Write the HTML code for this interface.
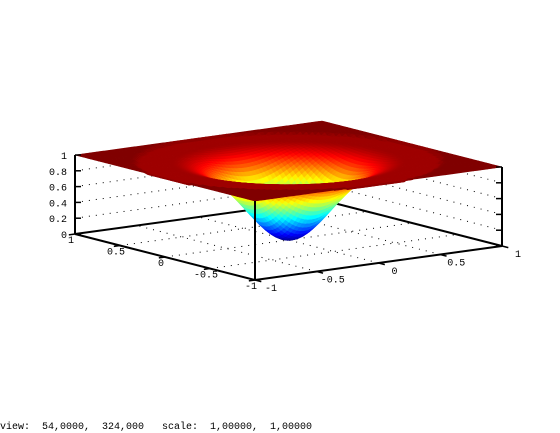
<!DOCTYPE html>
<html><head><meta charset="utf-8">
<style>
html,body{margin:0;padding:0;background:#fff;}
svg{display:block;}
text{font-family:"Liberation Mono","DejaVu Sans Mono",monospace;font-size:10px;fill:#000;white-space:pre;}
</style></head>
<body>
<svg id="plot" width="560" height="433" viewBox="0 0 560 433" xmlns="http://www.w3.org/2000/svg">
<g id="grid"></g>
<g id="surf"></g>
<g id="axes"></g>
<text x="0" y="429" xml:space="preserve">view:  54,0000,  324,000   scale:  1,00000,  1,00000</text>
</svg>
<script>
const uTicks=[-1,-0.5,0,0.5,1];
const uLabels=["-1","-0.5","0","0.5","1"];
const vTicks=[-1,-0.5,0,0.5,1];
const vLabels=["-1","-0.5","0","0.5","1"];
const zTicks=[0,0.2,0.4,0.6,0.8,1];
const zLabels=["0","0.2","0.4","0.6","0.8","1"];
const zMin=0, zMax=1;
const wellWidth=0.16;
const gridN=70;
function surfaceZ(u,v){const r2=u*u+v*v;if(r2>=1)return 1;return Math.min(0.97,1-Math.exp(-r2/wellWidth));}

const NS="http://www.w3.org/2000/svg";
const C=[288.5,240], A=[123.5,-17], B=[-90,-23], Zh=79;
function P(u,v,z){const t=(z-zMin)/(zMax-zMin);return [C[0]+u*A[0]+v*B[0], C[1]+u*A[1]+v*B[1]-t*Zh];}
function mk(tag,attrs,parent){const e=document.createElementNS(NS,tag);for(const k in attrs)e.setAttribute(k,attrs[k]);parent.appendChild(e);return e;}
function cl(x){return Math.max(0,Math.min(1,x));}
function jet(t){const r=cl(1.5-Math.abs(4*t-3)),g=cl(1.5-Math.abs(4*t-2)),b=cl(1.5-Math.abs(4*t-1));
 return `rgb(${Math.round(r*255)},${Math.round(g*255)},${Math.round(b*255)})`;}

const grid=document.getElementById('grid');
const dot={stroke:'#000','stroke-width':1,'stroke-dasharray':'1 6',fill:'none'};
zTicks.slice(1,-1).forEach(z=>{
 const a=P(-1,1,z),b=P(1,1,z),c=P(1,-1,z);
 const l=mk('polyline',Object.assign({points:`${a} ${b} ${c}`},dot),grid);
 
 
});
uTicks.slice(1,-1).forEach(u=>{
 const a=P(u,-1,0),b=P(u,1,0);
 const l=mk('line',Object.assign({x1:a[0],y1:a[1],x2:b[0],y2:b[1]},dot),grid);
 
 
});
vTicks.slice(1,-1).forEach(v=>{
 const a=P(-1,v,0),b=P(1,v,0);
 const l=mk('line',Object.assign({x1:a[0],y1:a[1],x2:b[0],y2:b[1]},dot),grid);
 
 
});
const axes=document.getElementById('axes');
[[P(-1,1,0),P(1,1,0)],[P(1,1,0),P(1,-1,0)]].forEach(s=>{
 const l=mk('line',{x1:s[0][0],y1:s[0][1],x2:s[1][0],y2:s[1][1],stroke:'#000','stroke-width':2},grid);
 
 
});

const surf=document.getElementById('surf');
const cells=[];
for(let i=0;i<gridN;i++)for(let j=0;j<gridN;j++){
 const u0=-1+2*i/gridN,u1=-1+2*(i+1)/gridN,v0=-1+2*j/gridN,v1=-1+2*(j+1)/gridN;
 const uc=(u0+u1)/2,vc=(v0+v1)/2;
 cells.push({u0,u1,v0,v1,d:A[1]*uc+B[1]*vc});
}
cells.sort((a,b)=>a.d-b.d);
cells.forEach(c=>{
 const pts=[[c.u0,c.v0],[c.u1,c.v0],[c.u1,c.v1],[c.u0,c.v1]].map(p=>P(p[0],p[1],surfaceZ(p[0],p[1])));
 const zc=(surfaceZ(c.u0,c.v0)+surfaceZ(c.u1,c.v0)+surfaceZ(c.u1,c.v1)+surfaceZ(c.u0,c.v1))/4;
 const col=jet((zc-zMin)/(zMax-zMin));
 const p=mk('polygon',{points:pts.map(q=>q[0].toFixed(2)+','+q[1].toFixed(2)).join(' '),fill:col,stroke:col,'stroke-width':0.6},surf);
 
 
});

function line(a,b,name,w){const l=mk('line',{x1:a[0],y1:a[1],x2:b[0],y2:b[1],stroke:'#000','stroke-width':w||2},axes);
 
 }
line(P(-1,1,0),P(-1,-1,0),'v-axis-line');
line(P(-1,-1,0),P(1,-1,0),'u-axis-line');
line(P(-1,1,0),P(-1,1,1),'z-axis-line');
line(P(-1,-1,0),P(-1,-1,1),'front-vertical-edge');
line(P(1,-1,0),P(1,-1,1),'right-vertical-edge');
zTicks.forEach((z,i)=>{
 const p=P(-1,1,z);
 line(p,[p[0]+6,p[1]],'z-tick',1.5);
 const q=P(1,-1,z);
 line(q,[q[0]-6,q[1]],'z-tick-right',1.5);
 const t=mk('text',{x:p[0]-8,y:p[1]+4,'text-anchor':'end'},axes);t.textContent=zLabels[i];
 
 
});
uTicks.forEach((u,i)=>{
 const p=P(u,-1,0);
 line(p,[p[0]-B[0]*0.07,p[1]-B[1]*0.07],'u-tick',1.5);
 const t=mk('text',{x:p[0]+16,y:p[1]+11,'text-anchor':'middle'},axes);t.textContent=uLabels[i];
 
 
});
vTicks.forEach((v,i)=>{
 const p=P(-1,v,0);
 line(p,[p[0]-A[0]*0.05,p[1]-A[1]*0.05],'v-tick',1.5);
 const t=mk('text',{x:p[0]-4,y:p[1]+9,'text-anchor':'middle'},axes);t.textContent=vLabels[i];
 
 
});
</script>
</body></html>
